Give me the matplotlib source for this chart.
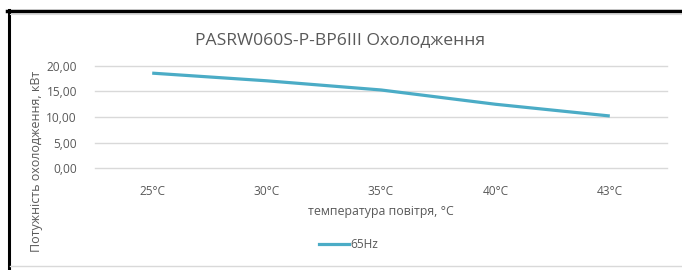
import matplotlib.pyplot as plt
from matplotlib.lines import Line2D

temps = ['25°C', '30°C', '35°C', '40°C', '43°C']
power_65hz = [18.6, 17.1, 15.3, 12.5, 10.2]
yticks = [0, 5, 10, 15, 20]

plt.rcParams['font.family'] = ['Open Sans', 'DejaVu Sans']

W, H = 682, 270
fig = plt.figure(figsize=(6.82, 2.70), dpi=100)
ax = fig.add_axes([95 / W, 1 - 168 / H, (667 - 95) / W, (168 - 66) / H])

ax.plot(range(len(temps)), power_65hz, color='#4bacc6', lw=2.3, solid_capstyle='butt')
ax.set_xlim(-0.5, len(temps) - 0.5)
ax.set_ylim(0, 20)
ax.set_yticks(yticks)
ax.set_yticklabels([('%.2f' % v).replace('.', ',') for v in yticks], color='#595959', fontsize=8.6)
ax.set_xticks(range(len(temps)))
ax.set_xticklabels(temps, color='#595959', fontsize=8.6)
ax.tick_params(length=0, axis='y', pad=13)
ax.tick_params(length=0, axis='x', pad=12)
ax.grid(axis='y', color='#d9d9d9', lw=1)
for g in ax.get_ygridlines():
    g.set_clip_on(False)
ax.set_axisbelow(True)
for s in ax.spines.values():
    s.set_visible(False)

fig.text(340 / W, 1 - 40 / H, 'PASRW060S-P-BP6III Охолодження', ha='center', va='center',
         fontsize=12.6, color='#595959')
fig.text(381 / W, 1 - 211 / H, 'температура повітря, °C', ha='center', va='center',
         fontsize=8.9, color='#595959')
fig.text(37 / W, 1 - 161 / H, 'Потужність охолодження, кВт', ha='center', va='center',
         rotation=90, fontsize=9, color='#595959')

# legend
fig.add_artist(Line2D([319 / W, 349 / W], [1 - 244 / H, 1 - 244 / H], color='#4bacc6', lw=2.3))
fig.text(350 / W, 1 - 244 / H, '65Hz', ha='left', va='center', fontsize=8.6, color='#595959')

# frame
fig.add_artist(Line2D([7 / W, 1], [1 - 11 / H, 1 - 11 / H], color='black', lw=2.5))
fig.add_artist(Line2D([8.5 / W, 8.5 / W], [0, 1 - 10 / H], color='black', lw=2.2))
fig.add_artist(Line2D([10 / W, 1], [1 - 265.5 / H, 1 - 265.5 / H], color='#d9d9d9', lw=1))
fig.add_artist(Line2D([10 / W, 1], [1 - 13.5 / H, 1 - 13.5 / H], color='#d9d9d9', lw=0.8))

fig.savefig('out.png', dpi=100)
